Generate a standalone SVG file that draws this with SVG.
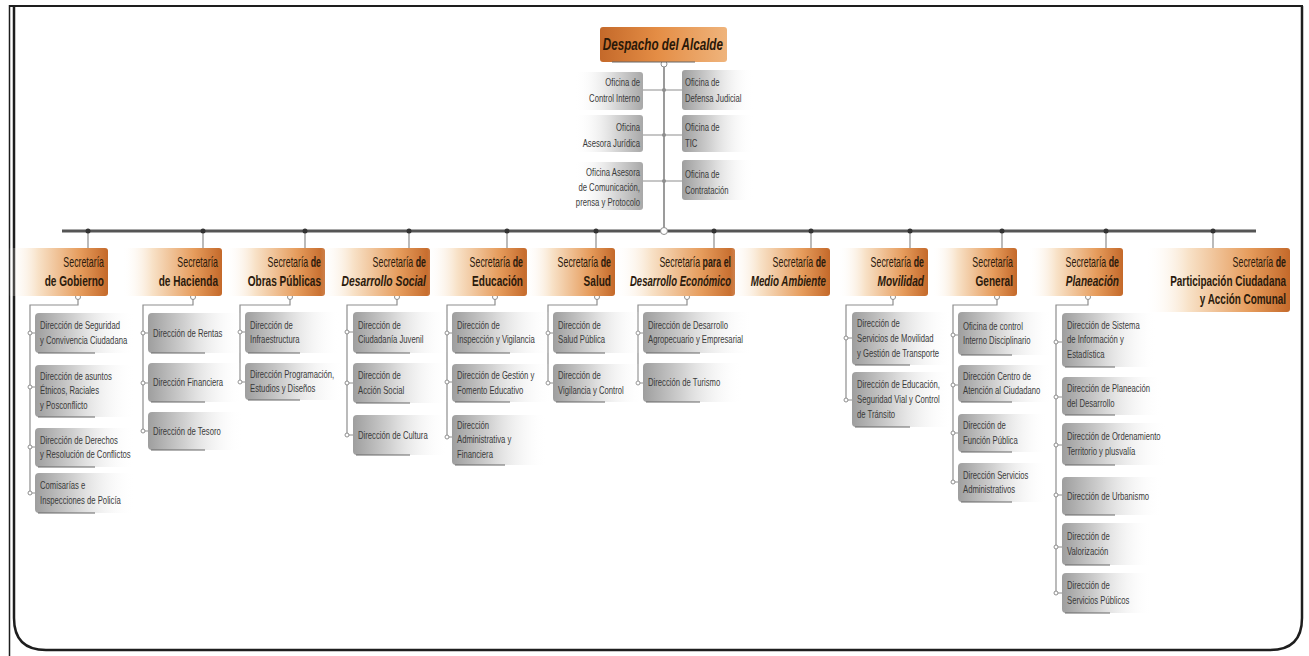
<svg xmlns="http://www.w3.org/2000/svg" width="1309" height="656" viewBox="0 0 1309 656">
<defs>
<linearGradient id="gSec" x1="0" y1="0" x2="1" y2="0">
<stop offset="0" stop-color="#ffffff" stop-opacity="0"/>
<stop offset="0.3" stop-color="#f8e2c8"/>
<stop offset="0.72" stop-color="#e69c5c"/>
<stop offset="1" stop-color="#c4692a"/>
</linearGradient>
<linearGradient id="gDesp" x1="0" y1="0" x2="1" y2="0">
<stop offset="0" stop-color="#c4692a"/>
<stop offset="0.45" stop-color="#e48d45"/>
<stop offset="1" stop-color="#efb47c"/>
</linearGradient>
<linearGradient id="gDir" x1="0" y1="0" x2="1" y2="0">
<stop offset="0" stop-color="#9e9e9e"/>
<stop offset="0.4" stop-color="#d2d2d2"/>
<stop offset="1" stop-color="#ffffff" stop-opacity="0"/>
</linearGradient>
<linearGradient id="gOfL" x1="0" y1="0" x2="1" y2="0">
<stop offset="0" stop-color="#ffffff" stop-opacity="0"/>
<stop offset="0.6" stop-color="#d6d6d6"/>
<stop offset="1" stop-color="#a8a8a8"/>
</linearGradient>
<style>
text{font-family:"Liberation Sans",Arial,sans-serif}
.sec{font-size:14px;fill:#2b1a0c;text-anchor:end}
.b{font-weight:bold}
.bi{font-weight:bold;font-style:italic}
.dir{font-size:11px;fill:#3a3a3a}
.of{font-size:11px;fill:#3a3a3a}
.ofr{font-size:11px;fill:#3a3a3a;text-anchor:end}
.conn{stroke:#8e8e8e;stroke-width:1.2;fill:none}
.dot{fill:#fff;stroke:#8e8e8e;stroke-width:1}
.tick{fill:#333}
.sh{stroke:#666;stroke-width:1}
.frame{fill:none;stroke:#1e1e1e}
</style>
</defs>
<g id="frame">
<line class="frame" x1="9.5" y1="5" x2="9.5" y2="656" stroke-width="1.5"/>
<line class="frame" x1="9" y1="6" x2="1303" y2="6" stroke-width="2"/>
<path class="frame" d="M14,6 V618 Q14,650 46,650 H1270 Q1302,650 1302,618 V6" stroke-width="2.5"/>
</g>

<g id="connectors">
<line x1="664" y1="64" x2="664" y2="231" stroke="#7a7a7a" stroke-width="1.5"/>
<line x1="643" y1="90" x2="682" y2="90" class="conn"/>
<line x1="643" y1="135" x2="682" y2="135" class="conn"/>
<line x1="643" y1="181" x2="682" y2="181" class="conn"/>
<circle cx="664" cy="90" r="2" fill="#8e8e8e"/>
<circle cx="664" cy="135" r="2" fill="#8e8e8e"/>
<circle cx="664" cy="181" r="2" fill="#8e8e8e"/>
<circle cx="664" cy="64" r="3" class="dot"/>
<line x1="62" y1="231" x2="1256" y2="231" stroke="#555" stroke-width="3"/>
<circle cx="664" cy="231" r="3.5" class="dot"/>
<g class="conn">
<path d="M88,231 V248 M203,231 V248 M305,231 V248 M409,231 V248 M507,231 V248 M596,231 V248 M714,231 V248 M811,231 V248 M910,231 V248 M1002,231 V248 M1106,231 V248 M1213,231 V248"/>
</g>
<g class="tick">
<circle cx="88" cy="231" r="2.5"/><circle cx="203" cy="231" r="2.5"/><circle cx="305" cy="231" r="2.5"/><circle cx="409" cy="231" r="2.5"/><circle cx="507" cy="231" r="2.5"/><circle cx="596" cy="231" r="2.5"/><circle cx="714" cy="231" r="2.5"/><circle cx="811" cy="231" r="2.5"/><circle cx="910" cy="231" r="2.5"/><circle cx="1002" cy="231" r="2.5"/><circle cx="1106" cy="231" r="2.5"/><circle cx="1213" cy="231" r="2.5"/>
</g>
<path class="conn" d="M78,299 V305 H30 V493 M30,333 H35 M30,387 H35 M30,447 H35 M30,493 H35"/>
<path class="conn" d="M193,299 V305 H143 V431 M143,333 H148 M143,383 H148 M143,431 H148"/>
<path class="conn" d="M290,299 V305 H240 V382 M240,332 H245 M240,382 H245"/>
<path class="conn" d="M397,299 V305 H347 V435 M347,332 H353 M347,383 H353 M347,435 H353"/>
<path class="conn" d="M495,299 V305 H447 V437 M447,333 H452 M447,382 H452 M447,437 H452"/>
<path class="conn" d="M597,299 V305 H548 V383 M548,333 H553 M548,383 H553"/>
<path class="conn" d="M687,299 V305 H638 V383 M638,333 H643 M638,383 H643"/>
<path class="conn" d="M893,299 V305 H846 V400 M846,338 H852 M846,400 H852"/>
<path class="conn" d="M997,299 V305 H953 V482 M953,335 H958 M953,385 H958 M953,433 H958 M953,482 H958"/>
<path class="conn" d="M1088,299 V305 H1056 V593 M1056,342 H1062 M1056,397 H1062 M1056,445 H1062 M1056,495 H1062 M1056,547 H1062 M1056,593 H1062"/>
<g class="dot">
<circle cx="78" cy="297" r="2.5"/><circle cx="193" cy="297" r="2.5"/><circle cx="290" cy="297" r="2.5"/><circle cx="397" cy="297" r="2.5"/><circle cx="495" cy="297" r="2.5"/><circle cx="597" cy="297" r="2.5"/><circle cx="687" cy="297" r="2.5"/><circle cx="893" cy="297" r="2.5"/><circle cx="997" cy="297" r="2.5"/><circle cx="1088" cy="297" r="2.5"/>
<circle cx="30" cy="333" r="2"/><circle cx="30" cy="387" r="2"/><circle cx="30" cy="447" r="2"/><circle cx="30" cy="493" r="2"/>
<circle cx="143" cy="333" r="2"/><circle cx="143" cy="383" r="2"/><circle cx="143" cy="431" r="2"/>
<circle cx="240" cy="332" r="2"/><circle cx="240" cy="382" r="2"/>
<circle cx="347" cy="332" r="2"/><circle cx="347" cy="383" r="2"/><circle cx="347" cy="435" r="2"/>
<circle cx="447" cy="333" r="2"/><circle cx="447" cy="382" r="2"/><circle cx="447" cy="437" r="2"/>
<circle cx="548" cy="333" r="2"/><circle cx="548" cy="383" r="2"/>
<circle cx="638" cy="333" r="2"/><circle cx="638" cy="383" r="2"/>
<circle cx="846" cy="338" r="2"/><circle cx="846" cy="400" r="2"/>
<circle cx="953" cy="335" r="2"/><circle cx="953" cy="385" r="2"/><circle cx="953" cy="433" r="2"/><circle cx="953" cy="482" r="2"/>
<circle cx="1056" cy="342" r="2"/><circle cx="1056" cy="397" r="2"/><circle cx="1056" cy="445" r="2"/><circle cx="1056" cy="495" r="2"/><circle cx="1056" cy="547" r="2"/><circle cx="1056" cy="593" r="2"/>
</g>
</g>

<g id="despacho">
<rect x="600" y="27" width="127" height="35" rx="3" fill="url(#gDesp)"/>
<line x1="612" y1="62" x2="695" y2="62" class="sh"/>
<text transform="translate(723,50) scale(0.73,1)" font-size="16" class="bi" fill="#2a1808" text-anchor="end">Despacho del Alcalde</text>
</g>

<g id="oficinas">
<g id="of-control-interno"><rect x="575" y="72" width="68" height="38" rx="3" fill="url(#gOfL)"/><text class="ofr" transform="translate(640,86) scale(0.7,1)"><tspan x="0">Oficina de</tspan><tspan x="0" dy="16">Control Interno</tspan></text></g>
<g id="of-juridica"><rect x="575" y="115" width="68" height="37" rx="3" fill="url(#gOfL)"/><text class="ofr" transform="translate(640,131) scale(0.7,1)"><tspan x="0">Oficina</tspan><tspan x="0" dy="16">Asesora Jurídica</tspan></text></g>
<g id="of-comunicacion"><rect x="575" y="162" width="68" height="48" rx="3" fill="url(#gOfL)"/><text class="ofr" transform="translate(640,176) scale(0.7,1)"><tspan x="0">Oficina Asesora</tspan><tspan x="0" dy="15">de Comunicación,</tspan><tspan x="0" dy="15">prensa y Protocolo</tspan></text></g>
<g id="of-defensa"><rect x="682" y="70" width="72" height="40" rx="3" fill="url(#gDir)"/><text class="of" transform="translate(685,86) scale(0.7,1)"><tspan x="0">Oficina de</tspan><tspan x="0" dy="16">Defensa Judicial</tspan></text></g>
<g id="of-tic"><rect x="682" y="115" width="72" height="37" rx="3" fill="url(#gDir)"/><text class="of" transform="translate(685,131) scale(0.7,1)"><tspan x="0">Oficina de</tspan><tspan x="0" dy="16">TIC</tspan></text></g>
<g id="of-contratacion"><rect x="682" y="160" width="72" height="40" rx="3" fill="url(#gDir)"/><text class="of" transform="translate(685,178) scale(0.7,1)"><tspan x="0">Oficina de</tspan><tspan x="0" dy="16">Contratación</tspan></text></g>
</g>

<g id="secretarias">
<g id="sec-gobierno"><rect x="8" y="248" width="100" height="48" rx="3" fill="url(#gSec)"/><text class="sec" transform="translate(104,267) scale(0.63,1)">Secretaría</text><text class="sec b" transform="translate(104,286) scale(0.72,1)">de Gobierno</text></g>
<g id="sec-hacienda"><rect x="122" y="248" width="100" height="48" rx="3" fill="url(#gSec)"/><text class="sec" transform="translate(218,267) scale(0.63,1)">Secretaría</text><text class="sec b" transform="translate(218,286) scale(0.72,1)">de Hacienda</text></g>
<g id="sec-obras"><rect x="225" y="248" width="100" height="48" rx="3" fill="url(#gSec)"/><text class="sec" transform="translate(321,267) scale(0.63,1)">Secretaría <tspan class="b">de</tspan></text><text class="sec b" transform="translate(321,286) scale(0.72,1)">Obras Públicas</text></g>
<g id="sec-social"><rect x="320" y="248" width="110" height="48" rx="3" fill="url(#gSec)"/><text class="sec" transform="translate(426,267) scale(0.63,1)">Secretaría <tspan class="b">de</tspan></text><text class="sec bi" transform="translate(426,286) scale(0.74,1)">Desarrollo Social</text></g>
<g id="sec-educacion"><rect x="427" y="248" width="100" height="48" rx="3" fill="url(#gSec)"/><text class="sec" transform="translate(523,267) scale(0.63,1)">Secretaría <tspan class="b">de</tspan></text><text class="sec b" transform="translate(523,286) scale(0.72,1)">Educación</text></g>
<g id="sec-salud"><rect x="525" y="248" width="90" height="48" rx="3" fill="url(#gSec)"/><text class="sec" transform="translate(611,267) scale(0.63,1)">Secretaría <tspan class="b">de</tspan></text><text class="sec b" transform="translate(611,286) scale(0.72,1)">Salud</text></g>
<g id="sec-economico"><rect x="615" y="248" width="120" height="48" rx="3" fill="url(#gSec)"/><text class="sec" transform="translate(731,267) scale(0.63,1)">Secretaría <tspan class="b">para el</tspan></text><text class="sec bi" transform="translate(731,286) scale(0.68,1)">Desarrollo Económico</text></g>
<g id="sec-ambiente"><rect x="730" y="248" width="100" height="48" rx="3" fill="url(#gSec)"/><text class="sec" transform="translate(826,267) scale(0.63,1)">Secretaría <tspan class="b">de</tspan></text><text class="sec bi" transform="translate(826,286) scale(0.7,1)">Medio Ambiente</text></g>
<g id="sec-movilidad"><rect x="838" y="248" width="90" height="48" rx="3" fill="url(#gSec)"/><text class="sec" transform="translate(924,267) scale(0.63,1)">Secretaría <tspan class="b">de</tspan></text><text class="sec bi" transform="translate(924,286) scale(0.72,1)">Movilidad</text></g>
<g id="sec-general"><rect x="932" y="248" width="85" height="48" rx="3" fill="url(#gSec)"/><text class="sec" transform="translate(1013,267) scale(0.63,1)">Secretaría</text><text class="sec b" transform="translate(1013,286) scale(0.72,1)">General</text></g>
<g id="sec-planeacion"><rect x="1028" y="248" width="95" height="48" rx="3" fill="url(#gSec)"/><text class="sec" transform="translate(1119,267) scale(0.63,1)">Secretaría <tspan class="b">de</tspan></text><text class="sec bi" transform="translate(1119,286) scale(0.72,1)">Planeación</text></g>
<g id="sec-participacion"><rect x="1145" y="248" width="145" height="64" rx="3" fill="url(#gSec)"/><text class="sec" transform="translate(1286,267) scale(0.63,1)">Secretaría <tspan class="b">de</tspan></text><text class="sec b" transform="translate(1286,286) scale(0.71,1)"><tspan x="0">Participación Ciudadana</tspan><tspan x="0" dy="18">y Acción Comunal</tspan></text></g>
</g>

<g id="direcciones">
<g id="d-seguridad"><rect x="35" y="313" width="100" height="40" rx="4" fill="url(#gDir)"/><line x1="38" y1="353" x2="95" y2="353" class="sh"/><text class="dir" transform="translate(40,329) scale(0.7,1)"><tspan x="0">Dirección de Seguridad</tspan><tspan x="0" dy="15">y Convivencia Ciudadana</tspan></text></g>
<g id="d-etnicos"><rect x="35" y="365" width="100" height="52" rx="4" fill="url(#gDir)"/><line x1="38" y1="417" x2="95" y2="417" class="sh"/><text class="dir" transform="translate(40,379.5) scale(0.7,1)"><tspan x="0">Dirección de asuntos</tspan><tspan x="0" dy="15">Étnicos, Raciales</tspan><tspan x="0" dy="15">y Posconflicto</tspan></text></g>
<g id="d-derechos"><rect x="35" y="428" width="100" height="39" rx="4" fill="url(#gDir)"/><line x1="38" y1="467" x2="95" y2="467" class="sh"/><text class="dir" transform="translate(40,443.5) scale(0.7,1)"><tspan x="0">Dirección de Derechos</tspan><tspan x="0" dy="15">y Resolución de Conflictos</tspan></text></g>
<g id="d-comisarias"><rect x="35" y="473" width="100" height="40" rx="4" fill="url(#gDir)"/><line x1="38" y1="513" x2="95" y2="513" class="sh"/><text class="dir" transform="translate(40,489) scale(0.7,1)"><tspan x="0">Comisarías e</tspan><tspan x="0" dy="15">Inspecciones de Policía</tspan></text></g>
<g id="d-rentas"><rect x="148" y="313" width="95" height="40" rx="4" fill="url(#gDir)"/><line x1="151" y1="353" x2="205" y2="353" class="sh"/><text class="dir" transform="translate(153,336.5) scale(0.7,1)">Dirección de Rentas</text></g>
<g id="d-financiera"><rect x="148" y="363" width="95" height="39" rx="4" fill="url(#gDir)"/><line x1="151" y1="402" x2="205" y2="402" class="sh"/><text class="dir" transform="translate(153,386) scale(0.7,1)">Dirección Financiera</text></g>
<g id="d-tesoro"><rect x="148" y="412" width="95" height="38" rx="4" fill="url(#gDir)"/><line x1="151" y1="450" x2="205" y2="450" class="sh"/><text class="dir" transform="translate(153,434.5) scale(0.7,1)">Dirección de Tesoro</text></g>
<g id="d-infraestructura"><rect x="245" y="312" width="95" height="41" rx="4" fill="url(#gDir)"/><line x1="248" y1="353" x2="300" y2="353" class="sh"/><text class="dir" transform="translate(250,328.5) scale(0.7,1)"><tspan x="0">Dirección de</tspan><tspan x="0" dy="15">Infraestructura</tspan></text></g>
<g id="d-programacion"><rect x="245" y="363" width="100" height="37" rx="4" fill="url(#gDir)"/><line x1="248" y1="400" x2="300" y2="400" class="sh"/><text class="dir" transform="translate(250,377.5) scale(0.7,1)"><tspan x="0">Dirección Programación,</tspan><tspan x="0" dy="15">Estudios y Diseños</tspan></text></g>
<g id="d-juvenil"><rect x="353" y="312" width="95" height="41" rx="4" fill="url(#gDir)"/><line x1="356" y1="353" x2="410" y2="353" class="sh"/><text class="dir" transform="translate(358,328.5) scale(0.7,1)"><tspan x="0">Dirección de</tspan><tspan x="0" dy="15">Ciudadanía Juvenil</tspan></text></g>
<g id="d-accion-social"><rect x="353" y="363" width="95" height="40" rx="4" fill="url(#gDir)"/><line x1="356" y1="403" x2="410" y2="403" class="sh"/><text class="dir" transform="translate(358,379) scale(0.7,1)"><tspan x="0">Dirección de</tspan><tspan x="0" dy="15">Acción Social</tspan></text></g>
<g id="d-cultura"><rect x="353" y="415" width="95" height="40" rx="4" fill="url(#gDir)"/><line x1="356" y1="455" x2="410" y2="455" class="sh"/><text class="dir" transform="translate(358,438.5) scale(0.7,1)">Dirección de Cultura</text></g>
<g id="d-inspeccion"><rect x="452" y="312" width="100" height="41" rx="4" fill="url(#gDir)"/><line x1="455" y1="353" x2="510" y2="353" class="sh"/><text class="dir" transform="translate(457,328.5) scale(0.7,1)"><tspan x="0">Dirección de</tspan><tspan x="0" dy="15">Inspección y Vigilancia</tspan></text></g>
<g id="d-fomento"><rect x="452" y="364" width="100" height="38" rx="4" fill="url(#gDir)"/><line x1="455" y1="402" x2="510" y2="402" class="sh"/><text class="dir" transform="translate(457,379) scale(0.7,1)"><tspan x="0">Dirección de Gestión y</tspan><tspan x="0" dy="15">Fomento Educativo</tspan></text></g>
<g id="d-administrativa"><rect x="452" y="415" width="95" height="50" rx="4" fill="url(#gDir)"/><line x1="455" y1="465" x2="505" y2="465" class="sh"/><text class="dir" transform="translate(457,428.5) scale(0.7,1)"><tspan x="0">Dirección</tspan><tspan x="0" dy="15">Administrativa y</tspan><tspan x="0" dy="15">Financiera</tspan></text></g>
<g id="d-salud-publica"><rect x="553" y="312" width="90" height="41" rx="4" fill="url(#gDir)"/><line x1="556" y1="353" x2="605" y2="353" class="sh"/><text class="dir" transform="translate(558,328.5) scale(0.7,1)"><tspan x="0">Dirección de</tspan><tspan x="0" dy="15">Salud Pública</tspan></text></g>
<g id="d-vigilancia"><rect x="553" y="364" width="90" height="38" rx="4" fill="url(#gDir)"/><line x1="556" y1="402" x2="605" y2="402" class="sh"/><text class="dir" transform="translate(558,379) scale(0.7,1)"><tspan x="0">Dirección de</tspan><tspan x="0" dy="15">Vigilancia y Control</tspan></text></g>
<g id="d-agropecuario"><rect x="643" y="312" width="110" height="41" rx="4" fill="url(#gDir)"/><line x1="646" y1="353" x2="700" y2="353" class="sh"/><text class="dir" transform="translate(648,328.5) scale(0.7,1)"><tspan x="0">Dirección de Desarrollo</tspan><tspan x="0" dy="15">Agropecuario y Empresarial</tspan></text></g>
<g id="d-turismo"><rect x="643" y="363" width="100" height="39" rx="4" fill="url(#gDir)"/><line x1="646" y1="402" x2="700" y2="402" class="sh"/><text class="dir" transform="translate(648,386) scale(0.7,1)">Dirección de Turismo</text></g>
<g id="d-servicios-movilidad"><rect x="852" y="312" width="100" height="53" rx="4" fill="url(#gDir)"/><line x1="855" y1="365" x2="910" y2="365" class="sh"/><text class="dir" transform="translate(857,327) scale(0.7,1)"><tspan x="0">Dirección de</tspan><tspan x="0" dy="15">Servicios de Movilidad</tspan><tspan x="0" dy="15">y Gestión de Transporte</tspan></text></g>
<g id="d-seguridad-vial"><rect x="852" y="372" width="100" height="55" rx="4" fill="url(#gDir)"/><line x1="855" y1="427" x2="910" y2="427" class="sh"/><text class="dir" transform="translate(857,388) scale(0.7,1)"><tspan x="0">Dirección de Educación,</tspan><tspan x="0" dy="15">Seguridad Vial y Control</tspan><tspan x="0" dy="15">de Tránsito</tspan></text></g>
<g id="d-disciplinario"><rect x="958" y="312" width="95" height="43" rx="4" fill="url(#gDir)"/><line x1="961" y1="355" x2="1012" y2="355" class="sh"/><text class="dir" transform="translate(963,329.5) scale(0.7,1)"><tspan x="0">Oficina de control</tspan><tspan x="0" dy="15">Interno Disciplinario</tspan></text></g>
<g id="d-atencion"><rect x="958" y="365" width="95" height="37" rx="4" fill="url(#gDir)"/><line x1="961" y1="402" x2="1012" y2="402" class="sh"/><text class="dir" transform="translate(963,379.5) scale(0.7,1)"><tspan x="0">Dirección Centro de</tspan><tspan x="0" dy="15">Atención al Ciudadano</tspan></text></g>
<g id="d-funcion-publica"><rect x="958" y="414" width="90" height="38" rx="4" fill="url(#gDir)"/><line x1="961" y1="452" x2="1012" y2="452" class="sh"/><text class="dir" transform="translate(963,429) scale(0.7,1)"><tspan x="0">Dirección de</tspan><tspan x="0" dy="15">Función Pública</tspan></text></g>
<g id="d-servicios-adm"><rect x="958" y="463" width="90" height="39" rx="4" fill="url(#gDir)"/><line x1="961" y1="502" x2="1012" y2="502" class="sh"/><text class="dir" transform="translate(963,478.5) scale(0.7,1)"><tspan x="0">Dirección Servicios</tspan><tspan x="0" dy="15">Administrativos</tspan></text></g>
<g id="d-sistema"><rect x="1062" y="313" width="95" height="54" rx="4" fill="url(#gDir)"/><line x1="1065" y1="367" x2="1115" y2="367" class="sh"/><text class="dir" transform="translate(1067,328.5) scale(0.7,1)"><tspan x="0">Dirección de Sistema</tspan><tspan x="0" dy="15">de Información y</tspan><tspan x="0" dy="15">Estadística</tspan></text></g>
<g id="d-planeacion-desarrollo"><rect x="1062" y="377" width="100" height="38" rx="4" fill="url(#gDir)"/><line x1="1065" y1="415" x2="1115" y2="415" class="sh"/><text class="dir" transform="translate(1067,392) scale(0.7,1)"><tspan x="0">Dirección de Planeación</tspan><tspan x="0" dy="15">del Desarrollo</tspan></text></g>
<g id="d-ordenamiento"><rect x="1062" y="423" width="105" height="42" rx="4" fill="url(#gDir)"/><line x1="1065" y1="465" x2="1115" y2="465" class="sh"/><text class="dir" transform="translate(1067,440) scale(0.7,1)"><tspan x="0">Dirección de Ordenamiento</tspan><tspan x="0" dy="15">Territorio y plusvalía</tspan></text></g>
<g id="d-urbanismo"><rect x="1062" y="477" width="100" height="38" rx="4" fill="url(#gDir)"/><line x1="1065" y1="515" x2="1115" y2="515" class="sh"/><text class="dir" transform="translate(1067,499.5) scale(0.7,1)">Dirección de Urbanismo</text></g>
<g id="d-valorizacion"><rect x="1062" y="523" width="90" height="42" rx="4" fill="url(#gDir)"/><line x1="1065" y1="565" x2="1110" y2="565" class="sh"/><text class="dir" transform="translate(1067,540) scale(0.7,1)"><tspan x="0">Dirección de</tspan><tspan x="0" dy="15">Valorización</tspan></text></g>
<g id="d-servicios-publicos"><rect x="1062" y="573" width="90" height="40" rx="4" fill="url(#gDir)"/><line x1="1065" y1="613" x2="1110" y2="613" class="sh"/><text class="dir" transform="translate(1067,589) scale(0.7,1)"><tspan x="0">Dirección de</tspan><tspan x="0" dy="15">Servicios Públicos</tspan></text></g>
</g>
</svg>
